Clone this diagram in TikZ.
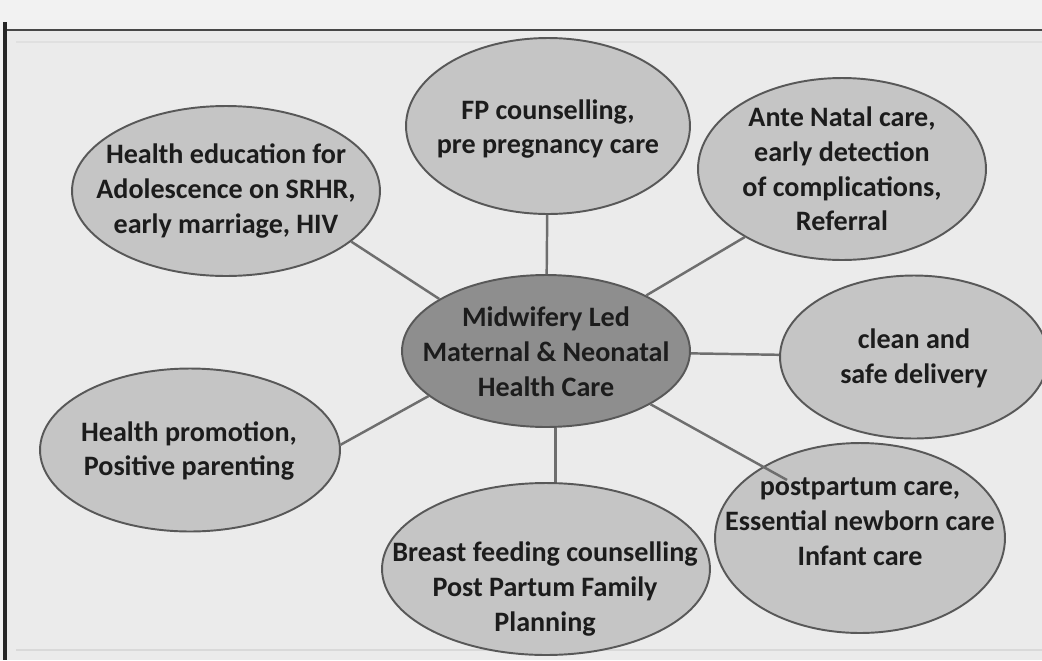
\documentclass[tikz,border=0pt]{standalone}
\usepackage{fontspec}
\setmainfont{Carlito}
\definecolor{paperout}{RGB}{242,242,242}
\definecolor{paperin}{RGB}{235,235,235}
\definecolor{framegray}{RGB}{72,72,72}
\definecolor{bubblefill}{RGB}{197,197,197}
\definecolor{hubfill}{RGB}{142,142,142}
\definecolor{bubbleline}{RGB}{88,88,88}
\definecolor{linkgray}{RGB}{110,110,110}
\definecolor{textdark}{RGB}{28,28,28}
\usetikzlibrary{shapes.geometric}

\begin{document}
\begin{tikzpicture}[x=0.02cm, y=-0.02cm,
    bubble/.style={ellipse, draw=bubbleline, fill=bubblefill, line width=1.1pt, inner sep=0pt},
    hub/.style={bubble, fill=hubfill},
    bubtext/.style={align=center, inner sep=0pt, text=textdark,
        font=\bfseries\fontsize{16}{19.8}\selectfont},
    link/.style={linkgray, line width=1.4pt}]

    % Fondo y marco
    \useasboundingbox (0,0) rectangle (1042,660);
    \fill[paperout] (0,0) rectangle (1042,660);
    \fill[paperin] (5,30) rectangle (1042,660);
    \draw[framegray, line width=1.7pt] (5,30) -- (1042,30);
    \draw[black!85, line width=1.8pt] (5,22) -- (5,660);
    \draw[black!12, line width=0.8pt] (16,42) -- (1042,42);
    \draw[black!15, line width=0.8pt] (16,650) -- (1042,650);

    % Elipses
    \foreach \n/\x/\y/\w/\h in {he/226/191/6.16/3.40, fp/548/126/5.68/3.52,
        anc/842/169/5.76/3.64, del/914/357/5.36/3.26, pp/860/538/5.80/3.80,
        bf/546/569/6.56/3.44, hp/190/450/6.00/3.26} {
        \node[bubble, minimum width=\w cm, minimum height=\h cm] (\n) at (\x,\y) {};
    }
    \node[hub, minimum width=5.76cm, minimum height=3.04cm] (mid) at (546,351) {};

    % Conectores
    \coordinate (ppin) at (787,480);
    \foreach \a/\b in {he.-22/mid.154, anc.215/mid.29, mid.-27/ppin, mid.201/hp.2} {
        \draw[link] (\a) -- (\b);
    }
    \draw[link] (fp) -- (mid);
    \draw[link] (mid) -- (del);
    \draw[link] (mid.-83) -- (mid.-83 |- bf.north);

    % Textos
    \node[bubtext] (het) at (he) {Health education for\\Adolescence on SRHR,\\early marriage, HIV};
    \node[bubtext] (fpt) at (548,129) {FP counselling,\\pre pregnancy care};
    \node[bubtext] (anct) at (anc) {Ante Natal care,\\early detection\\of complications,\\Referral};
    \node[bubtext] (midt) at (546,352) {Midwifery Led\\Maternal \& Neonatal\\Health Care};
    \node[bubtext] (delt) at (914,358) {clean and\\safe delivery};
    \node[bubtext] (ppt) at (860,522) {postpartum care,\\Essential newborn care\\Infant care};
    \node[bubtext] (bft) at (545,589) {Breast feeding counselling\\Post Partum Family\\Planning};
    \node[bubtext] (hpt) at (189,451) {Health promotion,\\Positive parenting};
\end{tikzpicture}
\end{document}
